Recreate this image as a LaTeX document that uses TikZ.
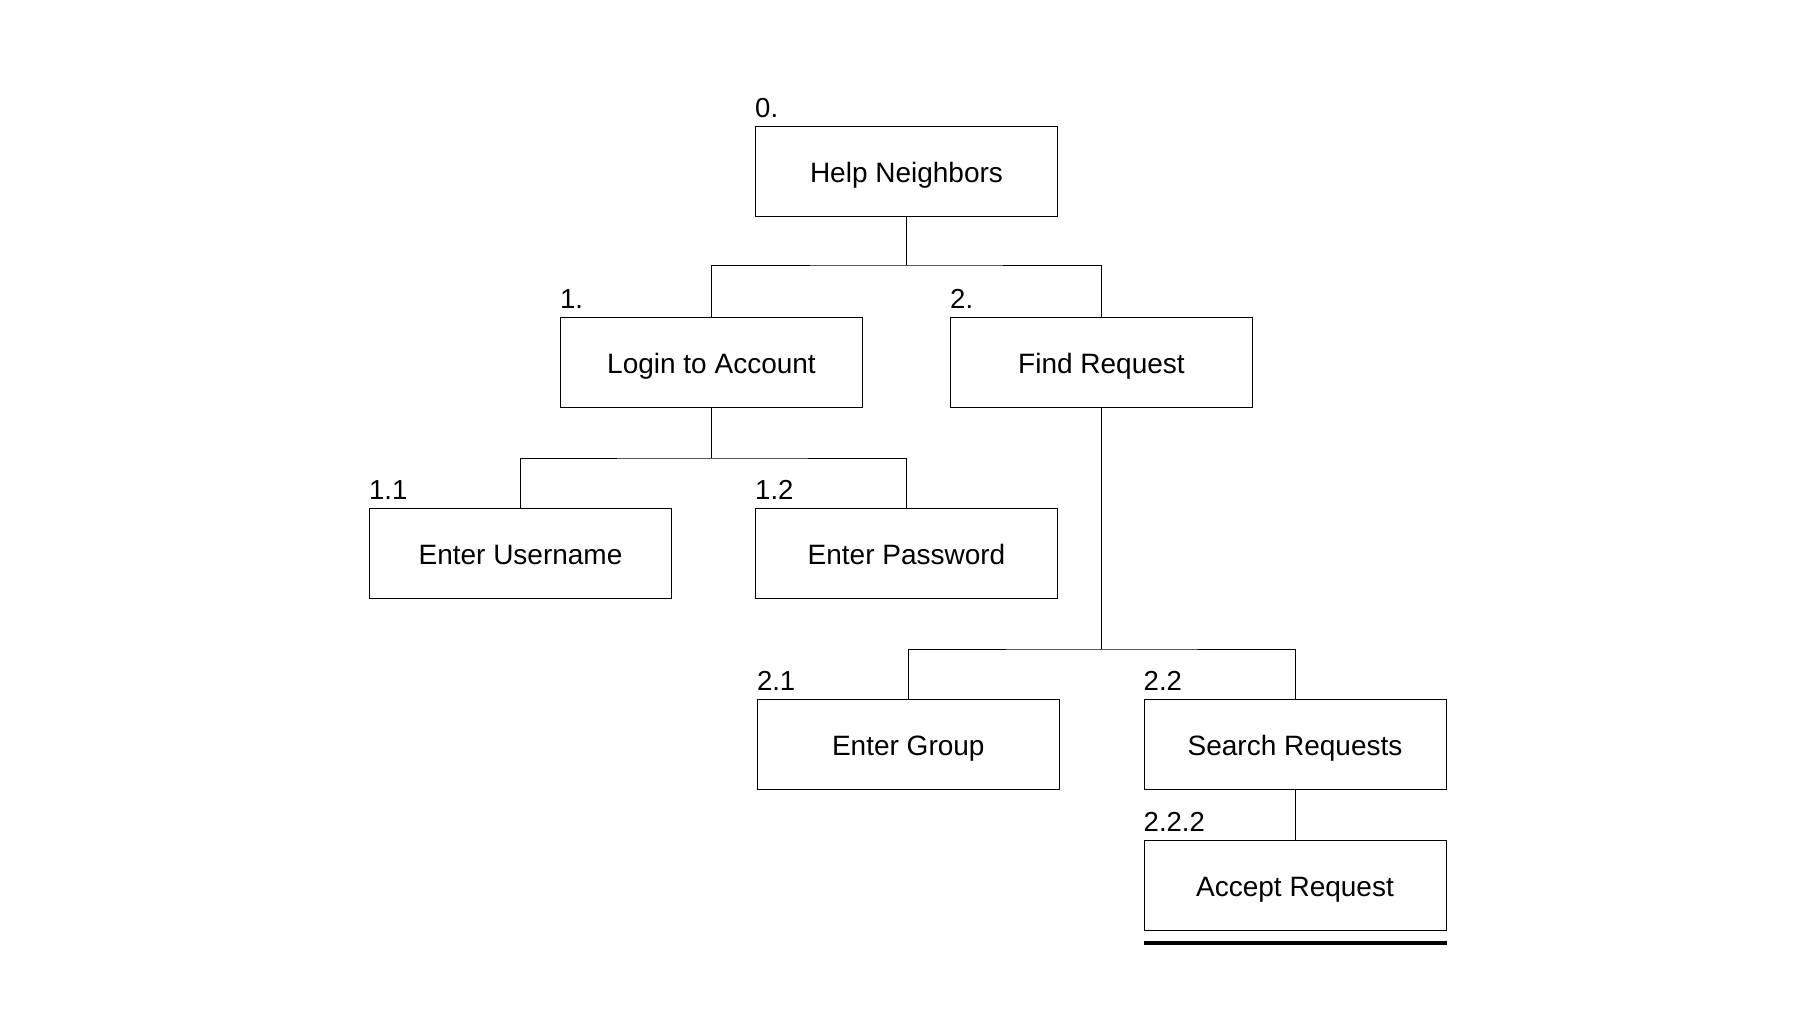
\documentclass[tikz,border=0pt]{standalone}
\usepackage{fontspec}
\setmainfont{Liberation Sans}
\begin{document}
\begin{tikzpicture}[x=1pt,y=-1pt,
  box/.style={draw=black, line width=1pt, minimum width=302pt, minimum height=90pt, inner sep=0pt,
    font=\fontsize{28}{33}\selectfont, text height=22pt, text depth=0pt},
  num/.style={anchor=base west, inner sep=0pt, font=\fontsize{27.5}{32}\selectfont},
  link/.style={line width=1pt}]
\useasboundingbox[fill=white] (0,0) rectangle (1814,1033);

\node[box] (n0)   at (906.5,171.3)  {Help Neighbors};
\node[box] (n1)   at (711.5,362)    {Login to Account};
\node[box] (n2)   at (1101.5,362)   {Find Request};
\node[box] (n11)  at (520.5,553)    {Enter Username};
\node[box] (n12)  at (906.5,553)    {Enter Password};
\node[box] (n21)  at (908.3,744)    {Enter Group};
\node[box] (n22)  at (1295,744)     {Search Requests};
\node[box] (n222) at (1295,885.3)   {Accept Request};

\node[num] (l0)   at ([yshift=8pt]n0.north west)   {0.};
\node[num] (l1)   at ([yshift=8pt]n1.north west)   {1.};
\node[num] (l2)   at ([yshift=8pt]n2.north west)   {2.};
\node[num] (l11)  at ([yshift=8pt]n11.north west)  {1.1};
\node[num] (l12)  at ([yshift=8pt]n12.north west)  {1.2};
\node[num] (l21)  at ([yshift=8pt]n21.north west)  {2.1};
\node[num] (l22)  at ([yshift=8pt]n22.north west)  {2.2};
\node[num] (l222) at ([yshift=8pt]n222.north west) {2.2.2};

\coordinate (j0) at (906.5,265);
\coordinate (j1) at (711.5,458);
\coordinate (j2) at (1101.5,649);

\draw[link] (n0.south) -- (j0);
\draw[link] (n1.north) |- (j0) -| (n2.north);
\draw[link] (n1.south) -- (j1);
\draw[link] (n11.north) |- (j1) -| (n12.north);
\draw[link] (n2.south) -- (j2);
\draw[link] (n21.north) |- (j2) -| (n22.north);
\draw[link] (n22.south) -- (n222.north);

\coordinate (t1) at ([yshift=-12pt]n222.south west);
\coordinate (t2) at ([yshift=-12pt]n222.south east);
\draw[line width=4pt] (t1) -- (t2);
\end{tikzpicture}
\end{document}
